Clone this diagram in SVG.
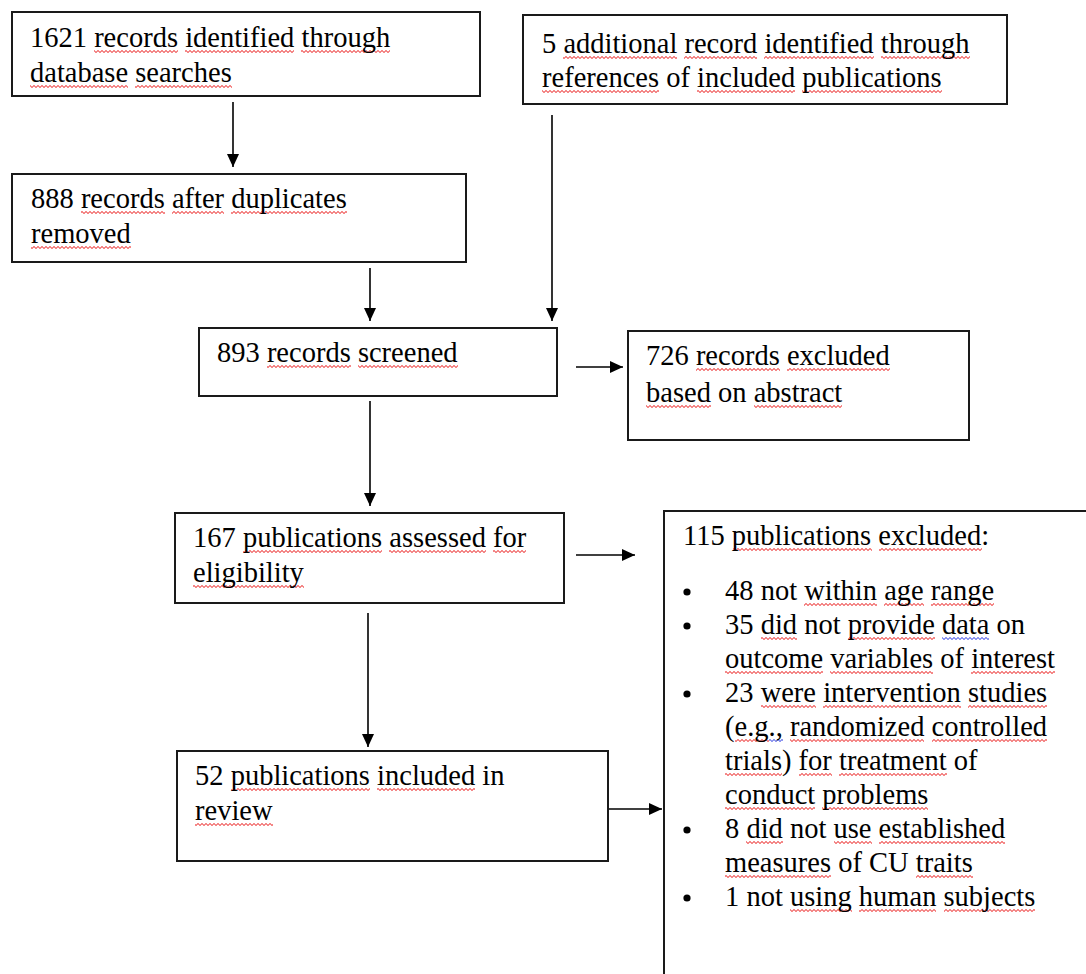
<svg xmlns="http://www.w3.org/2000/svg" width="1086" height="974" viewBox="0 0 1086 974">
<defs>
<style>
.box{fill:#fff;stroke:#1a1a1a;stroke-width:2}
.t{font-family:"Liberation Serif","Times New Roman",Tinos,serif;font-size:28.5px;fill:#000}
.c{stroke:#000;stroke-width:1.6;fill:none;marker-end:url(#ah)}
.r{fill:url(#sqr)}
.b{fill:url(#sqb)}
</style>
<pattern id="sqr" patternUnits="userSpaceOnUse" x="0" y="2.5" width="4" height="4">
<path d="M0,3 L2,1 L4,3" fill="none" stroke="#e81010" stroke-width="1"/>
</pattern>
<pattern id="sqb" patternUnits="userSpaceOnUse" x="0" y="2.5" width="4" height="4">
<path d="M0,3 L2,1 L4,3" fill="none" stroke="#2030e0" stroke-width="1"/>
</pattern>
<marker id="ah" markerUnits="userSpaceOnUse" viewBox="0 0 13 12" refX="13" refY="6" markerWidth="13" markerHeight="12" orient="auto">
<path d="M0,0 L13,6 L0,12 z" fill="#000"/>
</marker>
</defs>
<rect width="1086" height="974" fill="#fff"/>
<g id="connectors">
<line class="c" x1="233" y1="102" x2="233" y2="167"/>
<line class="c" x1="370" y1="268" x2="370" y2="321"/>
<line class="c" x1="552" y1="115" x2="552" y2="321"/>
<line class="c" x1="576" y1="367" x2="623" y2="367"/>
<line class="c" x1="370" y1="401" x2="370" y2="506"/>
<line class="c" x1="576" y1="555" x2="635" y2="555"/>
<line class="c" x1="368" y1="613" x2="368" y2="747"/>
<line class="c" x1="608" y1="809" x2="662" y2="809"/>
</g>
<g id="n1">
<rect class="box" x="12" y="12" width="468" height="84"/>
<g transform="translate(0,47)"><rect class="r" x="94" y="2.5" width="84" height="4"/><rect class="r" x="185" y="2.5" width="109" height="4"/><rect class="r" x="301" y="2.5" width="89" height="4"/></g>
<g transform="translate(0,82)"><rect class="r" x="30" y="2.5" width="98" height="4"/><rect class="r" x="135" y="2.5" width="97" height="4"/></g>
<text class="t" x="30" y="47"><tspan>1621</tspan> <tspan>records</tspan> <tspan>identified</tspan> <tspan>through</tspan></text>
<text class="t" x="30" y="82"><tspan>database</tspan> <tspan>searches</tspan></text>
</g>
<g id="n2">
<rect class="box" x="523" y="15" width="484" height="89"/>
<g transform="translate(0,53)"><rect class="r" x="563" y="2.5" width="114" height="4"/><rect class="r" x="684" y="2.5" width="73" height="4"/><rect class="r" x="764" y="2.5" width="110" height="4"/><rect class="r" x="881" y="2.5" width="89" height="4"/></g>
<g transform="translate(0,87)"><rect class="r" x="542" y="2.5" width="117" height="4"/><rect class="r" x="697" y="2.5" width="98" height="4"/><rect class="r" x="802" y="2.5" width="140" height="4"/></g>
<text class="t" x="542" y="53"><tspan>5</tspan> <tspan>additional</tspan> <tspan>record</tspan> <tspan>identified</tspan> <tspan>through</tspan></text>
<text class="t" x="542" y="87"><tspan>references</tspan> <tspan>of</tspan> <tspan>included</tspan> <tspan>publications</tspan></text>
</g>
<g id="n3">
<rect class="box" x="12" y="174" width="454" height="88"/>
<g transform="translate(0,208)"><rect class="r" x="81" y="2.5" width="84" height="4"/><rect class="r" x="172" y="2.5" width="52" height="4"/><rect class="r" x="231" y="2.5" width="116" height="4"/></g>
<g transform="translate(0,243)"><rect class="r" x="31" y="2.5" width="100" height="4"/></g>
<text class="t" x="31" y="208"><tspan>888</tspan> <tspan>records</tspan> <tspan>after</tspan> <tspan>duplicates</tspan></text>
<text class="t" x="31" y="243"><tspan>removed</tspan></text>
</g>
<g id="n4">
<rect class="box" x="199" y="328" width="358" height="68"/>
<g transform="translate(0,362)"><rect class="r" x="267" y="2.5" width="84" height="4"/><rect class="r" x="358" y="2.5" width="100" height="4"/></g>
<text class="t" x="217" y="362"><tspan>893</tspan> <tspan>records</tspan> <tspan>screened</tspan></text>
</g>
<g id="n5">
<rect class="box" x="628" y="331" width="341" height="109"/>
<g transform="translate(0,365)"><rect class="r" x="696" y="2.5" width="84" height="4"/><rect class="r" x="787" y="2.5" width="103" height="4"/></g>
<g transform="translate(0,402)"><rect class="r" x="646" y="2.5" width="65" height="4"/><rect class="r" x="754" y="2.5" width="88" height="4"/></g>
<text class="t" x="646" y="365"><tspan>726</tspan> <tspan>records</tspan> <tspan>excluded</tspan></text>
<text class="t" x="646" y="402"><tspan>based</tspan> <tspan>on</tspan> <tspan>abstract</tspan></text>
</g>
<g id="n6">
<rect class="box" x="175" y="513" width="389" height="90"/>
<g transform="translate(0,547)"><rect class="r" x="243" y="2.5" width="139" height="4"/><rect class="r" x="389" y="2.5" width="97" height="4"/><rect class="r" x="493" y="2.5" width="33" height="4"/></g>
<g transform="translate(0,582)"><rect class="r" x="193" y="2.5" width="111" height="4"/></g>
<text class="t" x="193" y="547"><tspan>167</tspan> <tspan>publications</tspan> <tspan>assessed</tspan> <tspan>for</tspan></text>
<text class="t" x="193" y="582"><tspan>eligibility</tspan></text>
</g>
<g id="n7">
<rect class="box" x="177" y="751" width="431" height="110"/>
<g transform="translate(0,785)"><rect class="r" x="231" y="2.5" width="139" height="4"/><rect class="r" x="377" y="2.5" width="98" height="4"/></g>
<g transform="translate(0,820)"><rect class="r" x="195" y="2.5" width="78" height="4"/></g>
<text class="t" x="195" y="785"><tspan>52</tspan> <tspan>publications</tspan> <tspan>included</tspan> <tspan>in</tspan></text>
<text class="t" x="195" y="820"><tspan>review</tspan></text>
</g>
<g id="n8">
<rect class="box" x="664" y="511" width="440" height="480"/>
<g transform="translate(0,545)"><rect class="r" x="733" y="2.5" width="139" height="4"/><rect class="r" x="879" y="2.5" width="103" height="4"/></g>
<g transform="translate(0,600)"><rect class="r" x="804" y="2.5" width="73" height="4"/><rect class="r" x="884" y="2.5" width="40" height="4"/><rect class="r" x="931" y="2.5" width="63" height="4"/></g>
<g transform="translate(0,634)"><rect class="r" x="761" y="2.5" width="36" height="4"/><rect class="r" x="848" y="2.5" width="87" height="4"/><rect class="b" x="942" y="2.5" width="47" height="4"/></g>
<g transform="translate(0,668)"><rect class="r" x="725" y="2.5" width="98" height="4"/><rect class="r" x="830" y="2.5" width="103" height="4"/><rect class="r" x="971" y="2.5" width="84" height="4"/></g>
<g transform="translate(0,702)"><rect class="r" x="761" y="2.5" width="55" height="4"/><rect class="r" x="823" y="2.5" width="138" height="4"/><rect class="r" x="968" y="2.5" width="79" height="4"/></g>
<g transform="translate(0,736)"><rect class="r" x="735" y="2.5" width="34" height="4"/><rect class="b" x="769" y="2.5" width="14" height="4"/><rect class="r" x="790" y="2.5" width="134" height="4"/><rect class="r" x="932" y="2.5" width="115" height="4"/></g>
<g transform="translate(0,770)"><rect class="r" x="725" y="2.5" width="57" height="4"/><rect class="r" x="799" y="2.5" width="33" height="4"/><rect class="r" x="839" y="2.5" width="108" height="4"/></g>
<g transform="translate(0,804)"><rect class="r" x="725" y="2.5" width="90" height="4"/><rect class="r" x="822" y="2.5" width="106" height="4"/></g>
<g transform="translate(0,838)"><rect class="r" x="746" y="2.5" width="37" height="4"/><rect class="r" x="834" y="2.5" width="38" height="4"/><rect class="r" x="879" y="2.5" width="126" height="4"/></g>
<g transform="translate(0,872)"><rect class="r" x="725" y="2.5" width="106" height="4"/><rect class="r" x="916" y="2.5" width="57" height="4"/></g>
<g transform="translate(0,906)"><rect class="r" x="790" y="2.5" width="62" height="4"/><rect class="r" x="859" y="2.5" width="77" height="4"/><rect class="r" x="944" y="2.5" width="91" height="4"/></g>
<text class="t" x="683" y="545"><tspan>115</tspan> <tspan>publications</tspan> <tspan>excluded:</tspan></text>
<g fill="#000">
<circle cx="687" cy="592" r="3.6"/>
<circle cx="687" cy="626" r="3.6"/>
<circle cx="687" cy="694" r="3.6"/>
<circle cx="687" cy="830" r="3.6"/>
<circle cx="687" cy="898" r="3.6"/>
</g>
<text class="t" x="725" y="600"><tspan>48</tspan> <tspan>not</tspan> <tspan>within</tspan> <tspan>age</tspan> <tspan>range</tspan></text>
<text class="t" x="725" y="634"><tspan>35</tspan> <tspan>did</tspan> <tspan>not</tspan> <tspan>provide</tspan> <tspan>data</tspan> <tspan>on</tspan></text>
<text class="t" x="725" y="668"><tspan>outcome</tspan> <tspan>variables</tspan> <tspan>of</tspan> <tspan>interest</tspan></text>
<text class="t" x="725" y="702"><tspan>23</tspan> <tspan>were</tspan> <tspan>intervention</tspan> <tspan>studies</tspan></text>
<text class="t" x="725" y="736"><tspan>(e.g.,</tspan> <tspan>randomized</tspan> <tspan>controlled</tspan></text>
<text class="t" x="725" y="770"><tspan>trials)</tspan> <tspan>for</tspan> <tspan>treatment</tspan> <tspan>of</tspan></text>
<text class="t" x="725" y="804"><tspan>conduct</tspan> <tspan>problems</tspan></text>
<text class="t" x="725" y="838"><tspan>8</tspan> <tspan>did</tspan> <tspan>not</tspan> <tspan>use</tspan> <tspan>established</tspan></text>
<text class="t" x="725" y="872"><tspan>measures</tspan> <tspan>of</tspan> <tspan>CU</tspan> <tspan>traits</tspan></text>
<text class="t" x="725" y="906"><tspan>1</tspan> <tspan>not</tspan> <tspan>using</tspan> <tspan>human</tspan> <tspan>subjects</tspan></text>
</g>
</svg>
